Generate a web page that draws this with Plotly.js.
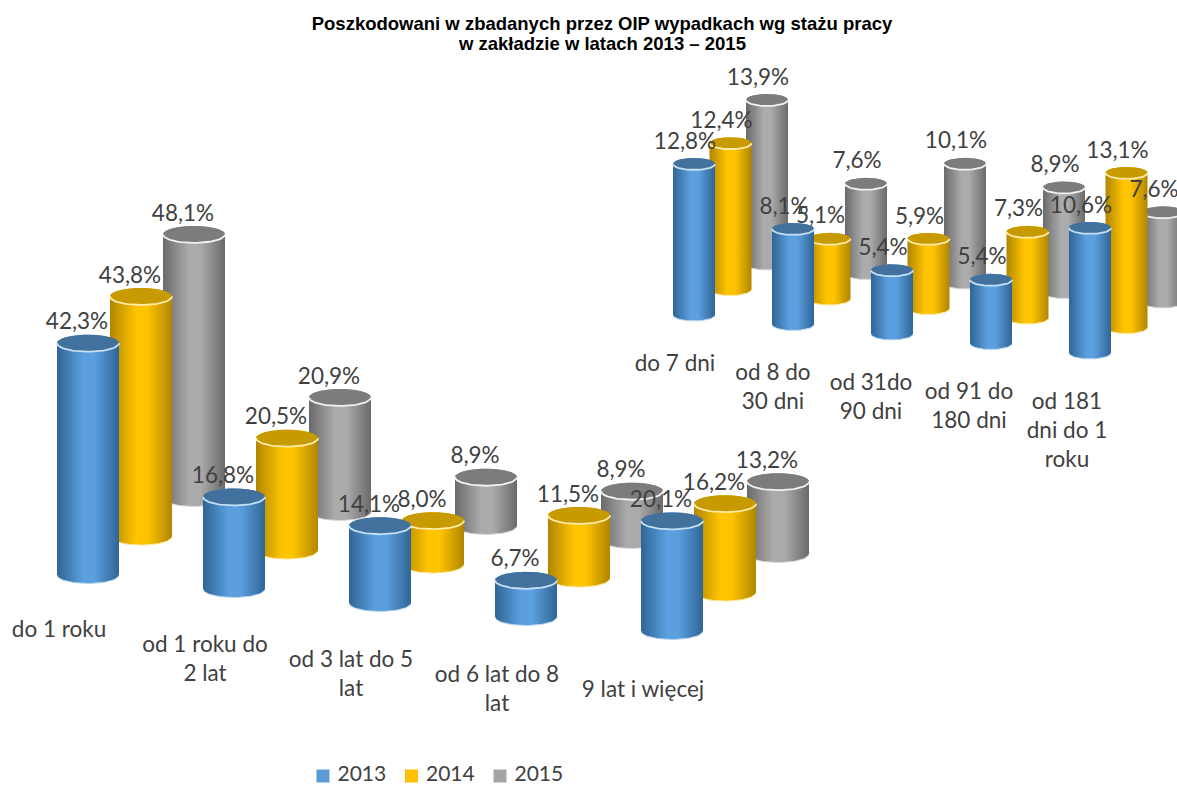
<!DOCTYPE html>
<html>
<head>
<meta charset="utf-8">
<script src="https://cdn.plot.ly/plotly-3.0.1.min.js"></script>
<style>html,body{margin:0;padding:0;background:#fff}</style>
</head>
<body>
<div id="chart" style="width:1177px;height:785px"></div>
<script>
const titleLines = ["Poszkodowani w zbadanych przez OIP wypadkach wg stażu pracy", "w zakładzie w latach 2013 – 2015"];
const seriesNames = ["2013", "2014", "2015"];

const tenureCategories = ["do 1 roku", "od 1 roku do\n2 lat", "od 3 lat do 5\nlat", "od 6 lat do 8\nlat", "9 lat i więcej"];
const tenure2013 = [42.3, 16.8, 14.1, 6.7, 20.1];
const tenure2014 = [43.8, 20.5, 8.0, 11.5, 16.2];
const tenure2015 = [48.1, 20.9, 8.9, 8.9, 13.2];

const shortCategories = ["do 7 dni", "od 8 do\n30 dni", "od 31do\n90 dni", "od 91 do\n180 dni", "od 181\ndni do 1\nroku"];
const short2013 = [12.8, 8.1, 5.4, 5.4, 10.6];
const short2014 = [12.4, 5.1, 5.9, 7.3, 13.1];
const short2015 = [13.9, 7.6, 10.1, 8.9, 7.6];

const palette = [
  {mid:"#5C9FDF", edge:"#2F6596", cap:"#41719C", rim:"#C5E0F5", low:"#BBD8F0", key:"#5B9BD5"},
  {mid:"#FFC400", edge:"#B08600", cap:"#C79A00", rim:"#FFEBA8", low:"#FFE48A", key:"#FFC000"},
  {mid:"#ABABAB", edge:"#6A6A6A", cap:"#7C7C7C", rim:"#F2F2F2", low:"#D8D8D8", key:"#A5A5A5"}
];

const H = 785, LABEL_FONT = "Lato, Carlito, Calibri, sans-serif", LABEL_SIZE = 22.5, LINE = 29;

/* geometry of the two pseudo-3D groups, all in page-scale units */
const groups = [
  {axis:"y",  cats:tenureCategories, series:[tenure2013, tenure2014, tenure2015],
   x0:88, y0:575, k:5.48, rx:31, ry:8.5, catDx:146, catDy:14, serDx:53, serDy:-38.5,
   labDx:-11, labDy:-19.5, catX:59, catXStep:146, catY:620, catYStep:15},
  {axis:"y2", cats:shortCategories, series:[short2013, short2014, short2015],
   x0:694, y0:315, k:11.8, rx:21, ry:6, catDx:99, catDy:9.5, serDx:36.5, serDy:-25.5,
   labDx:-9, labDy:-21, catX:675, catXStep:98, catY:354, catYStep:9.5}
];

const traces = [];
function arc(g, cx, cy, from, to) {
  const xs = [], ys = [], n = 36;
  for (let t = 0; t <= n; t++) {
    const a = from + (to - from) * t / n;
    xs.push(cx + g.rx * Math.cos(a));
    ys.push(cy + (g.ry / g.k) * Math.sin(a));
  }
  return {xs, ys};
}

groups.forEach(g => {
  for (let s = 2; s >= 0; s--) {
    g.series[s].forEach((v, c) => {
      const cx = g.x0 + c * g.catDx + s * g.serDx;
      const base = -(c * g.catDy + s * g.serDy) / g.k;
      const top = base + v;
      const col = palette[s];
      const low = arc(g, cx, base, Math.PI, 2 * Math.PI);
      const up = arc(g, cx, top, 0, Math.PI);
      traces.push({
        type:"scatter", mode:"lines", yaxis:g.axis, showlegend:false, hoverinfo:"skip",
        x:[...low.xs, ...up.xs], y:[...low.ys, ...up.ys], fill:"toself",
        line:{width:0, color:col.mid},
        fillgradient:{type:"horizontal", start:cx - g.rx, stop:cx + g.rx,
          colorscale:[[0, col.edge], [0.42, col.mid], [0.6, col.mid], [1, col.edge]]}
      });
      const capA = arc(g, cx, top, 0, 2 * Math.PI);
      traces.push({
        type:"scatter", mode:"lines", yaxis:g.axis, showlegend:false, hoverinfo:"skip",
        x:capA.xs, y:capA.ys, fill:"toself", fillcolor:col.cap, line:{width:0, color:col.cap}
      });
      const rim = arc(g, cx, top, Math.PI, 2 * Math.PI);
      traces.push({
        type:"scatter", mode:"lines", yaxis:g.axis, showlegend:false, hoverinfo:"skip",
        x:rim.xs, y:rim.ys, line:{width:1.8, color:col.rim}
      });
      traces.push({
        type:"scatter", mode:"lines", yaxis:g.axis, showlegend:false, hoverinfo:"skip",
        x:low.xs, y:low.ys, line:{width:1, color:col.low}
      });
    });
  }
});

/* value labels on top of every cylinder */
groups.forEach(g => {
  const xs = [], ys = [], ts = [];
  for (let s = 2; s >= 0; s--) {
    g.series[s].forEach((v, c) => {
      xs.push(g.x0 + c * g.catDx + s * g.serDx + g.labDx);
      ys.push(-(c * g.catDy + s * g.serDy) / g.k + v - g.labDy / g.k);
      ts.push(v.toFixed(1).replace(".", ",") + "%");
    });
  }
  traces.push({type:"scatter", mode:"text", yaxis:g.axis, showlegend:false, hoverinfo:"skip",
    x:xs, y:ys, text:ts, textposition:"middle center",
    textfont:{family:LABEL_FONT, size:LABEL_SIZE, color:"#404040"}});
  /* category labels, one text per line */
  const cx = [], cy = [], ct = [];
  g.cats.forEach((label, c) => {
    label.split("\n").forEach((ln, i) => {
      cx.push(g.catX + c * g.catXStep);
      cy.push((g.y0 - (g.catY + c * g.catYStep + i * LINE)) / g.k);
      ct.push(ln);
    });
  });
  traces.push({type:"scatter", mode:"text", yaxis:g.axis, showlegend:false, hoverinfo:"skip",
    x:cx, y:cy, text:ct, textposition:"bottom center",
    textfont:{family:LABEL_FONT, size:LABEL_SIZE, color:"#404040"}});
});

/* legend keys */
const g0 = groups[0], g1 = groups[1];
seriesNames.forEach((name, s) => {
  traces.push({type:"scatter", mode:"markers+text", name:name, showlegend:false, hoverinfo:"skip",
    x:[323 + s * 88.5], y:[(g0.y0 - 776) / g0.k], text:[" " + name], textposition:"middle right",
    marker:{symbol:"square", size:13, color:palette[s].key},
    textfont:{family:LABEL_FONT, size:21, color:"#404040"}});
});

const layout = {
  width:1177, height:H, autosize:false,
  margin:{l:0, r:0, t:0, b:0, pad:0},
  paper_bgcolor:"#fff", plot_bgcolor:"#fff",
  title:{text:titleLines[0], x:602 / 1177, xanchor:"center", y:1 - 23.5 / H, yanchor:"middle",
    font:{family:"Liberation Sans, Arial, sans-serif", size:18.5, color:"#000", weight:700}},
  annotations:[{text:titleLines[1], xref:"paper", yref:"paper", x:602 / 1177, y:1 - 44 / H,
    xanchor:"center", yanchor:"middle", showarrow:false,
    font:{family:"Liberation Sans, Arial, sans-serif", size:18.5, color:"#000", weight:700}}],
  xaxis:{range:[0, 1177], visible:false, fixedrange:true},
  yaxis:{range:[(g0.y0 - H) / g0.k, g0.y0 / g0.k], visible:false, fixedrange:true},
  yaxis2:{range:[(g1.y0 - H) / g1.k, g1.y0 / g1.k], visible:false, overlaying:"y", fixedrange:true},
  showlegend:false
};
Plotly.newPlot("chart", traces, layout, {displayModeBar:false, staticPlot:true});
</script>
</body>
</html>
